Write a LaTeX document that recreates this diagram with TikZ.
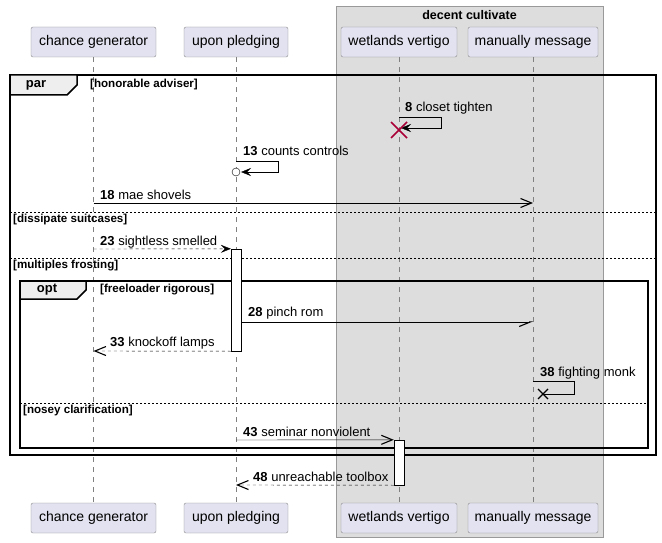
\documentclass[tikz,border=0pt]{standalone}
\usepackage{fontspec}
\setmainfont{Liberation Sans}
\usetikzlibrary{arrows.meta}
\definecolor{partfill}{HTML}{E2E2F0}
\definecolor{partline}{HTML}{8A8A8A}
\definecolor{boxfill}{HTML}{DDDDDD}
\definecolor{boxline}{HTML}{999999}
\definecolor{tabfill}{HTML}{EEEEEE}
\definecolor{crossred}{HTML}{A80036}
\tikzset{
  part/.style={draw=partline, fill=partfill, rounded corners=2pt, minimum height=30pt, font=\fontsize{14}{16}\selectfont},
  life/.style={draw=gray, dash pattern=on 5pt off 5pt},
  frameline/.style={line width=1.5pt},
  sepline/.style={dash pattern=on 2pt off 2pt},
  guard/.style={anchor=west, inner sep=0pt, font=\bfseries\fontsize{11.6}{13}\selectfont},
  lbl/.style={anchor=west, inner sep=0pt, font=\fontsize{13}{15}\selectfont},
  fullhead/.style={-{Stealth[length=10pt,width=8pt,inset=4pt]}},
  openhead/.style={-{Straight Barb[length=11pt,width=9pt,line width=1.1pt]}},
  halfhead/.style={-{Straight Barb[right,length=11pt,width=9pt,line width=1.1pt]}},
  actbox/.style={draw, fill=white}
}
\begin{document}
\begin{tikzpicture}[x=1pt,y=-1pt]
\useasboundingbox (0,0) rectangle (662,543);
% the box round the last two
\draw[draw=boxline, fill=boxfill] (336,6) rectangle (603,537);
\node[font=\bfseries\fontsize{12.5}{14}\selectfont] (boxtitle) at (469.5,15) {decent cultivate};
% participants
\node[part, minimum width=125pt] (cgtop) at (93.5,42) {chance generator};
\node[part, minimum width=104pt] (uptop) at (236,42) {upon pledging};
\node[part, minimum width=116pt] (wvtop) at (399,42) {wetlands vertigo};
\node[part, minimum width=130pt] (mmtop) at (533,42) {manually message};
\node[part, minimum width=125pt] (cgbot) at (93.5,518) {chance generator};
\node[part, minimum width=104pt] (upbot) at (236,518) {upon pledging};
\node[part, minimum width=116pt] (wvbot) at (399,518) {wetlands vertigo};
\node[part, minimum width=130pt] (mmbot) at (533,518) {manually message};
\draw[life] (cgtop) -- (cgbot);
\draw[life] (uptop) -- (upbot);
\draw[life] (wvtop) -- (wvbot);
\draw[life] (mmtop) -- (mmbot);
% par frame
\draw[frameline] (10,75) rectangle (656,455);
\draw[frameline, fill=tabfill] (10,75) -- (77,75) -- (77,85) -- (67,95) -- (10,95) -- cycle;
\node[font=\bfseries\fontsize{13}{15}\selectfont] (partag) at (36,85) {par};
\node[guard] (g1) at (90,85) {[honorable adviser]};
\draw[sepline] (10,212) -- (656,212);
\node[guard] (g2) at (13,219) {[dissipate suitcases]};
\draw[sepline] (10,258) -- (656,258);
\node[guard] (g3) at (13,266) {[multiples frosting]};
% opt frame
\draw[frameline] (20,281) rectangle (648,448);
\draw[frameline, fill=tabfill] (20,281) -- (86,281) -- (86,290) -- (77,299) -- (20,299) -- cycle;
\node[font=\bfseries\fontsize{13}{15}\selectfont] (opttag) at (47,290) {opt};
\node[guard] (g4) at (100,290) {[freeloader rigorous]};
\draw[sepline] (20,403) -- (648,403);
\node[guard] (g5) at (23,410) {[nosey clarification]};
% activations
\node[actbox, minimum width=10pt, minimum height=102pt, inner sep=0pt] (actup) at (236,300) {};
\node[actbox, minimum width=10pt, minimum height=45pt, inner sep=0pt] (actwv) at (399,462.5) {};
% end points
\coordinate (m18a) at (93.5,203); \coordinate (m18b) at (533,203);
\coordinate (m23a) at (93.5,249); \coordinate (m28b) at (533,322);
\coordinate (m33b) at (93.5,351); \coordinate (m43a) at (236,440);
\coordinate (m48b) at (236,485);
% messages
\node[lbl] (l8) at (405,108) {\textbf{8} closet tighten};
\draw[fullhead] (399,117) -- (441,117) -- (441,128) -- (401,128);
\draw[crossred, line width=1.5pt] (391,122) -- (407,138) (391,138) -- (407,122);
\node[lbl] (l13) at (243,151) {\textbf{13} counts controls};
\draw[fullhead] (236,161) -- (278,161) -- (278,172) -- (241,172);
\draw[fill=white] (236,172) circle (4);
\node[lbl] (l18) at (100,195) {\textbf{18} mae shovels};
\draw[openhead] (m18a) -- (m18b);
\node[lbl] (l23) at (100,242) {\textbf{23} sightless smelled};
\draw[fullhead, dashed] (m23a) -- (actup.north west);
\node[lbl] (l28) at (248,313) {\textbf{28} pinch rom};
\draw[halfhead] (actup.east |- m28b) -- (m28b);
\node[lbl] (l33) at (110,343) {\textbf{33} knockoff lamps};
\draw[openhead, dashed] (actup.south west) -- (m33b);
\node[lbl] (l38) at (540,373) {\textbf{38} fighting monk};
\draw (533,381) -- (574,381) -- (574,394) -- (543,394);
\draw[line width=1.2pt] (538,389) -- (548,399) (538,399) -- (548,389);
\node[lbl] (l43) at (243,432) {\textbf{43} seminar nonviolent};
\draw[openhead] (m43a) -- (actwv.north west);
\node[lbl] (l48) at (253,477) {\textbf{48} unreachable toolbox};
\draw[openhead, dashed] (actwv.south west) -- (m48b);
\end{tikzpicture}
\end{document}
